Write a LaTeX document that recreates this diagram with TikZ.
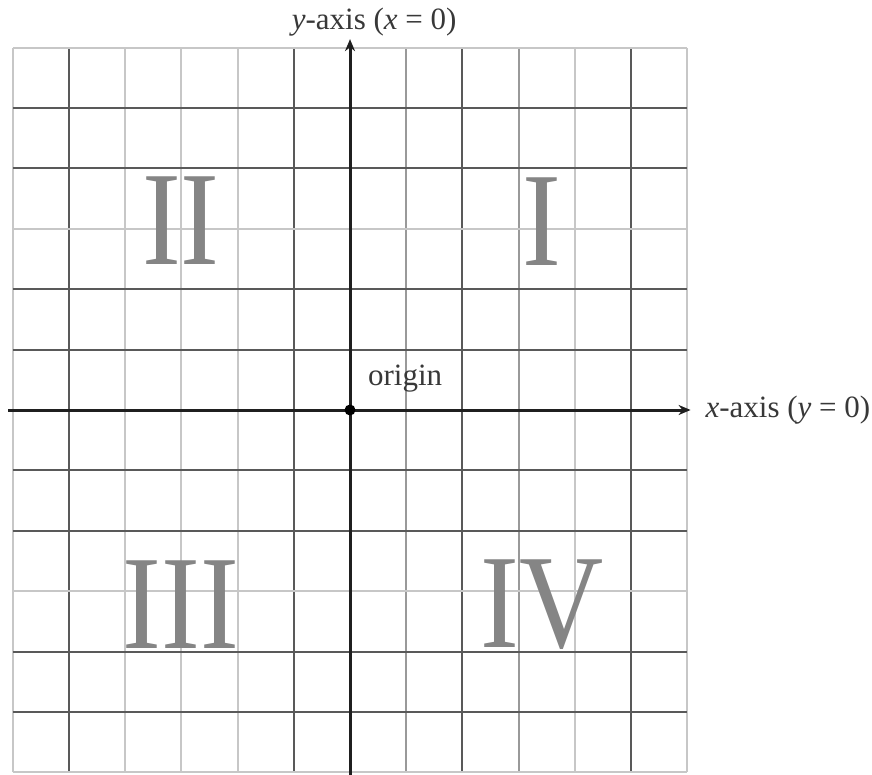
\documentclass[tikz,border=0pt]{standalone}
\usepackage{fontspec}
\setmainfont{Liberation Serif}
\usetikzlibrary{arrows.meta,positioning}

\tikzset{
  light grid/.style={draw=black!22, line width=1pt},
  mid grid/.style={draw=black!40, line width=1pt},
  dark grid/.style={draw=black!65, line width=1pt},
  axis/.style={draw=black!88, line width=1.5pt, -{Stealth[length=6pt,width=5pt]}},
  quadrant/.style={text=black!48, font=\fontsize{67}{67}\selectfont, xscale=0.87, inner sep=0pt},
  axis label/.style={text=black!78, font=\fontsize{15.5}{18}\selectfont, inner sep=0pt}
}

\begin{document}
\begin{tikzpicture}[x=28.1pt, y=30.2pt]
  \useasboundingbox (-6.228,-6.043) rectangle (9.288,6.788);

  % grid
  \foreach \i in {-6,-4,-3,-2,4,6} \draw[light grid] (\i,-6) -- (\i,6);
  \foreach \i in {1,3}             \draw[mid grid]   (\i,-6) -- (\i,6);
  \foreach \i in {-5,-1,2,5}       \draw[dark grid]  (\i,-6) -- (\i,6);
  \foreach \j in {6,3,-3,-6}       \draw[light grid] (-6,\j) -- (6,\j);
  \foreach \j in {5,4,2,1,-1,-2,-4,-5} \draw[dark grid] (-6,\j) -- (6,\j);

  % axes
  \coordinate (xstart) at (-6.08,0);
  \coordinate (xend)   at (6.06,0);
  \coordinate (ystart) at (0,-6.043);
  \coordinate (yend)   at (0,6.14);
  \draw[axis] (xstart) -- (xend);
  \draw[axis] (ystart) -- (yend);
  \node[circle, fill=black, inner sep=0pt, minimum size=5.5pt] (origin) at (0,0) {};

  \node[axis label, anchor=west] (xlabel) at (6.32,0) {\textit{x}-axis (\textit{y} = 0)};
  \node[axis label] (ylabel) at (0.43,6.42) {\textit{y}-axis (\textit{x} = 0)};
  \node[axis label] (originlabel) at (0.98,0.52) {origin};

  % quadrants
  \node[quadrant] (q2) at (-3.01,3.13) {II};
  \node[quadrant] (q1) at (3.42,3.12)  {I};
  \node[quadrant] (q3) at (-3.01,-3.23) {III};
  \node[quadrant] (q4) at (3.42,-3.23) {IV};
\end{tikzpicture}
\end{document}
